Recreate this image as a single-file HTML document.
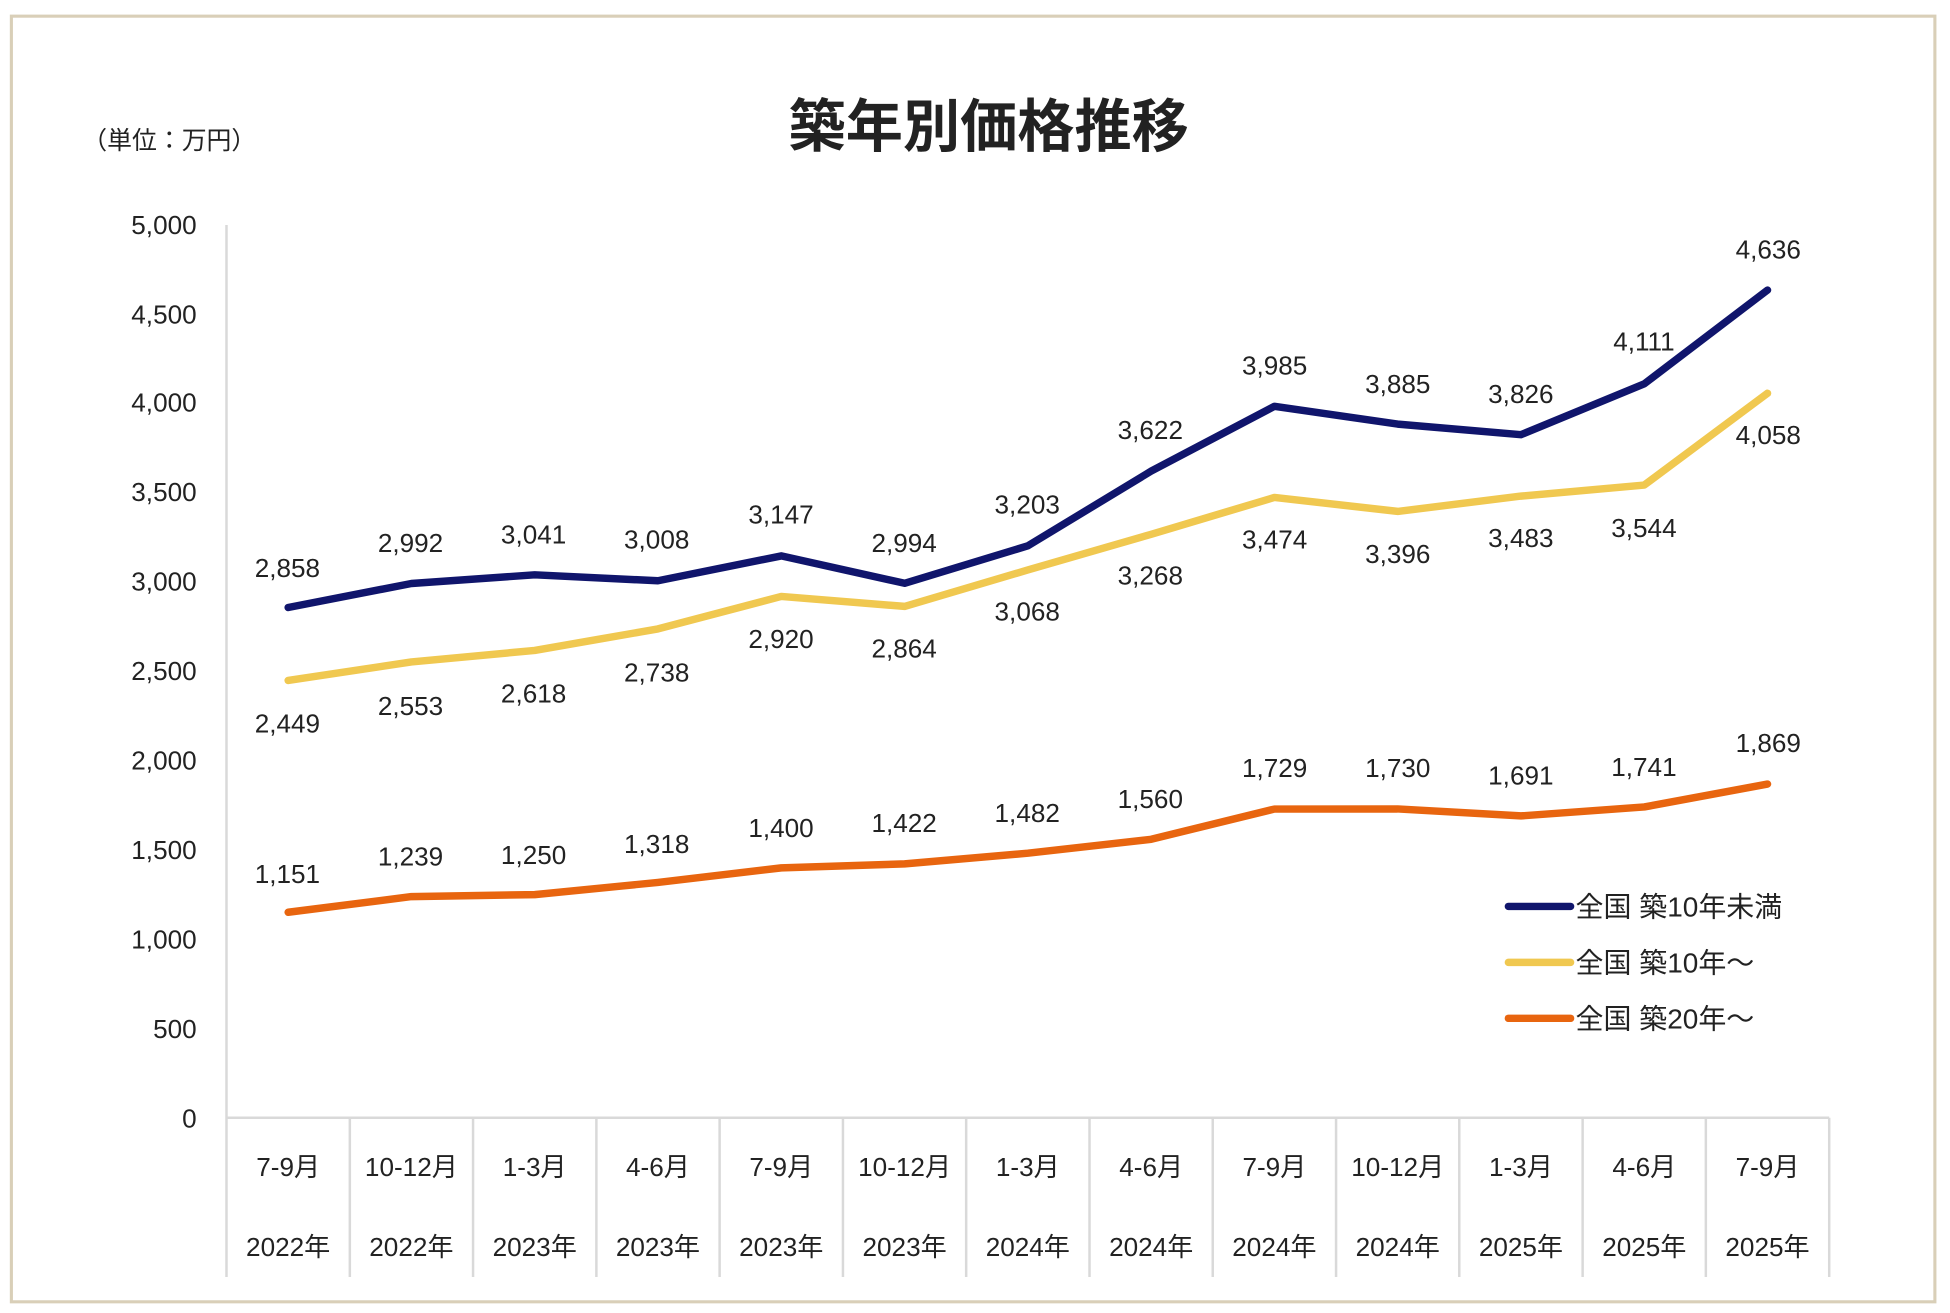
<!DOCTYPE html>
<html><head><meta charset="utf-8"><style>
html,body{margin:0;padding:0;background:#fff;}
svg{display:block;}
text{font-family:"Liberation Sans","Noto Sans CJK JP",sans-serif;fill:#222;}
</style></head><body>
<svg width="1950" height="1313" viewBox="0 0 1568 1056" xmlns="http://www.w3.org/2000/svg">
<rect x="0" y="0" width="1568" height="1056" fill="#fff"/>
<rect x="9" y="13" width="1547" height="1034" fill="none" stroke="#d9cfb8" stroke-width="2.5"/>
<text x="795" y="118" font-size="46" font-weight="bold" text-anchor="middle" fill="#111">築年別価格推移</text>
<text x="66" y="120" font-size="20">（単位：万円）</text>
<g font-size="21" text-anchor="end">
<text x="158" y="188">5,000</text><text x="158" y="260">4,500</text><text x="158" y="331">4,000</text>
<text x="158" y="403">3,500</text><text x="158" y="475">3,000</text><text x="158" y="547">2,500</text>
<text x="158" y="619">2,000</text><text x="158" y="691">1,500</text><text x="158" y="763">1,000</text>
<text x="158" y="835">500</text><text x="158" y="907">0</text>
</g>
<g stroke="#d9d9d9" stroke-width="2">
<line x1="182" y1="181" x2="182" y2="1027"/>
<line x1="182" y1="899" x2="1471" y2="899"/>
<line x1="281.2" y1="899" x2="281.2" y2="1027"/><line x1="380.3" y1="899" x2="380.3" y2="1027"/>
<line x1="479.5" y1="899" x2="479.5" y2="1027"/><line x1="578.6" y1="899" x2="578.6" y2="1027"/>
<line x1="677.8" y1="899" x2="677.8" y2="1027"/><line x1="776.9" y1="899" x2="776.9" y2="1027"/>
<line x1="876.1" y1="899" x2="876.1" y2="1027"/><line x1="975.2" y1="899" x2="975.2" y2="1027"/>
<line x1="1074.4" y1="899" x2="1074.4" y2="1027"/><line x1="1173.5" y1="899" x2="1173.5" y2="1027"/>
<line x1="1272.7" y1="899" x2="1272.7" y2="1027"/><line x1="1371.8" y1="899" x2="1371.8" y2="1027"/>
<line x1="1471" y1="899" x2="1471" y2="1027"/>
</g>
<g font-size="21" text-anchor="middle">
<text x="231.6" y="946">7-9月</text><text x="330.7" y="946">10-12月</text><text x="429.9" y="946">1-3月</text>
<text x="529" y="946">4-6月</text><text x="628.2" y="946">7-9月</text><text x="727.4" y="946">10-12月</text>
<text x="826.5" y="946">1-3月</text><text x="925.7" y="946">4-6月</text><text x="1024.8" y="946">7-9月</text>
<text x="1124" y="946">10-12月</text><text x="1223.1" y="946">1-3月</text><text x="1322.3" y="946">4-6月</text>
<text x="1421.4" y="946">7-9月</text>
<text x="231.6" y="1010">2022年</text><text x="330.7" y="1010">2022年</text><text x="429.9" y="1010">2023年</text>
<text x="529" y="1010">2023年</text><text x="628.2" y="1010">2023年</text><text x="727.4" y="1010">2023年</text>
<text x="826.5" y="1010">2024年</text><text x="925.7" y="1010">2024年</text><text x="1024.8" y="1010">2024年</text>
<text x="1124" y="1010">2024年</text><text x="1223.1" y="1010">2025年</text><text x="1322.3" y="1010">2025年</text>
<text x="1421.4" y="1010">2025年</text>
</g>
<g fill="none" stroke-width="6" stroke-linejoin="round" stroke-linecap="round">
<polyline stroke="#e8650f" points="231.6,733.7 330.7,721.1 429.9,719.5 529,709.7 628.2,698 727.4,694.8 826.5,686.2 925.7,675 1024.8,650.7 1124,650.6 1223.1,656.2 1322.3,649 1421.4,630.6"/>
<polyline stroke="#f0c850" points="231.6,547.3 330.7,532.4 429.9,523.1 529,505.8 628.2,479.7 727.4,487.7 826.5,458.4 925.7,429.7 1024.8,400.1 1124,411.3 1223.1,399 1322.3,390.1 1421.4,316.3"/>
<polyline stroke="#10156c" points="231.6,488.6 330.7,469.3 429.9,462.3 529,467.1 628.2,447.1 727.4,469.1 826.5,439 925.7,378.9 1024.8,326.8 1124,341.1 1223.1,349.6 1322.3,308.7 1421.4,233.3"/>
</g>
<g font-size="21" text-anchor="middle">
<text x="231" y="464">2,858</text><text x="330" y="444">2,992</text><text x="429" y="437">3,041</text>
<text x="528" y="441">3,008</text><text x="628" y="421">3,147</text><text x="727" y="444">2,994</text>
<text x="826" y="413">3,203</text><text x="925" y="353">3,622</text><text x="1025" y="301">3,985</text>
<text x="1124" y="316">3,885</text><text x="1223" y="324">3,826</text><text x="1322" y="282">4,111</text>
<text x="1422" y="208">4,636</text>
<text x="231" y="589">2,449</text><text x="330" y="575">2,553</text><text x="429" y="565">2,618</text>
<text x="528" y="548">2,738</text><text x="628" y="521">2,920</text><text x="727" y="529">2,864</text>
<text x="826" y="499">3,068</text><text x="925" y="470">3,268</text><text x="1025" y="441">3,474</text>
<text x="1124" y="453">3,396</text><text x="1223" y="440">3,483</text><text x="1322" y="432">3,544</text>
<text x="1422" y="357">4,058</text>
<text x="231" y="710">1,151</text><text x="330" y="696">1,239</text><text x="429" y="695">1,250</text>
<text x="528" y="686">1,318</text><text x="628" y="673">1,400</text><text x="727" y="669">1,422</text>
<text x="826" y="661">1,482</text><text x="925" y="650">1,560</text><text x="1025" y="625">1,729</text>
<text x="1124" y="625">1,730</text><text x="1223" y="631">1,691</text><text x="1322" y="624">1,741</text>
<text x="1422" y="605">1,869</text>
</g>
<g stroke-width="6" stroke-linecap="round">
<line x1="1213" y1="729" x2="1263" y2="729" stroke="#10156c"/>
<line x1="1213" y1="774" x2="1263" y2="774" stroke="#f0c850"/>
<line x1="1213" y1="819" x2="1263" y2="819" stroke="#e8650f"/>
</g>
<g font-size="22.5">
<text x="1267" y="737">全国 築10年未満</text>
<text x="1267" y="782">全国 築10年～</text>
<text x="1267" y="827">全国 築20年～</text>
</g>
</svg>
</body></html>
